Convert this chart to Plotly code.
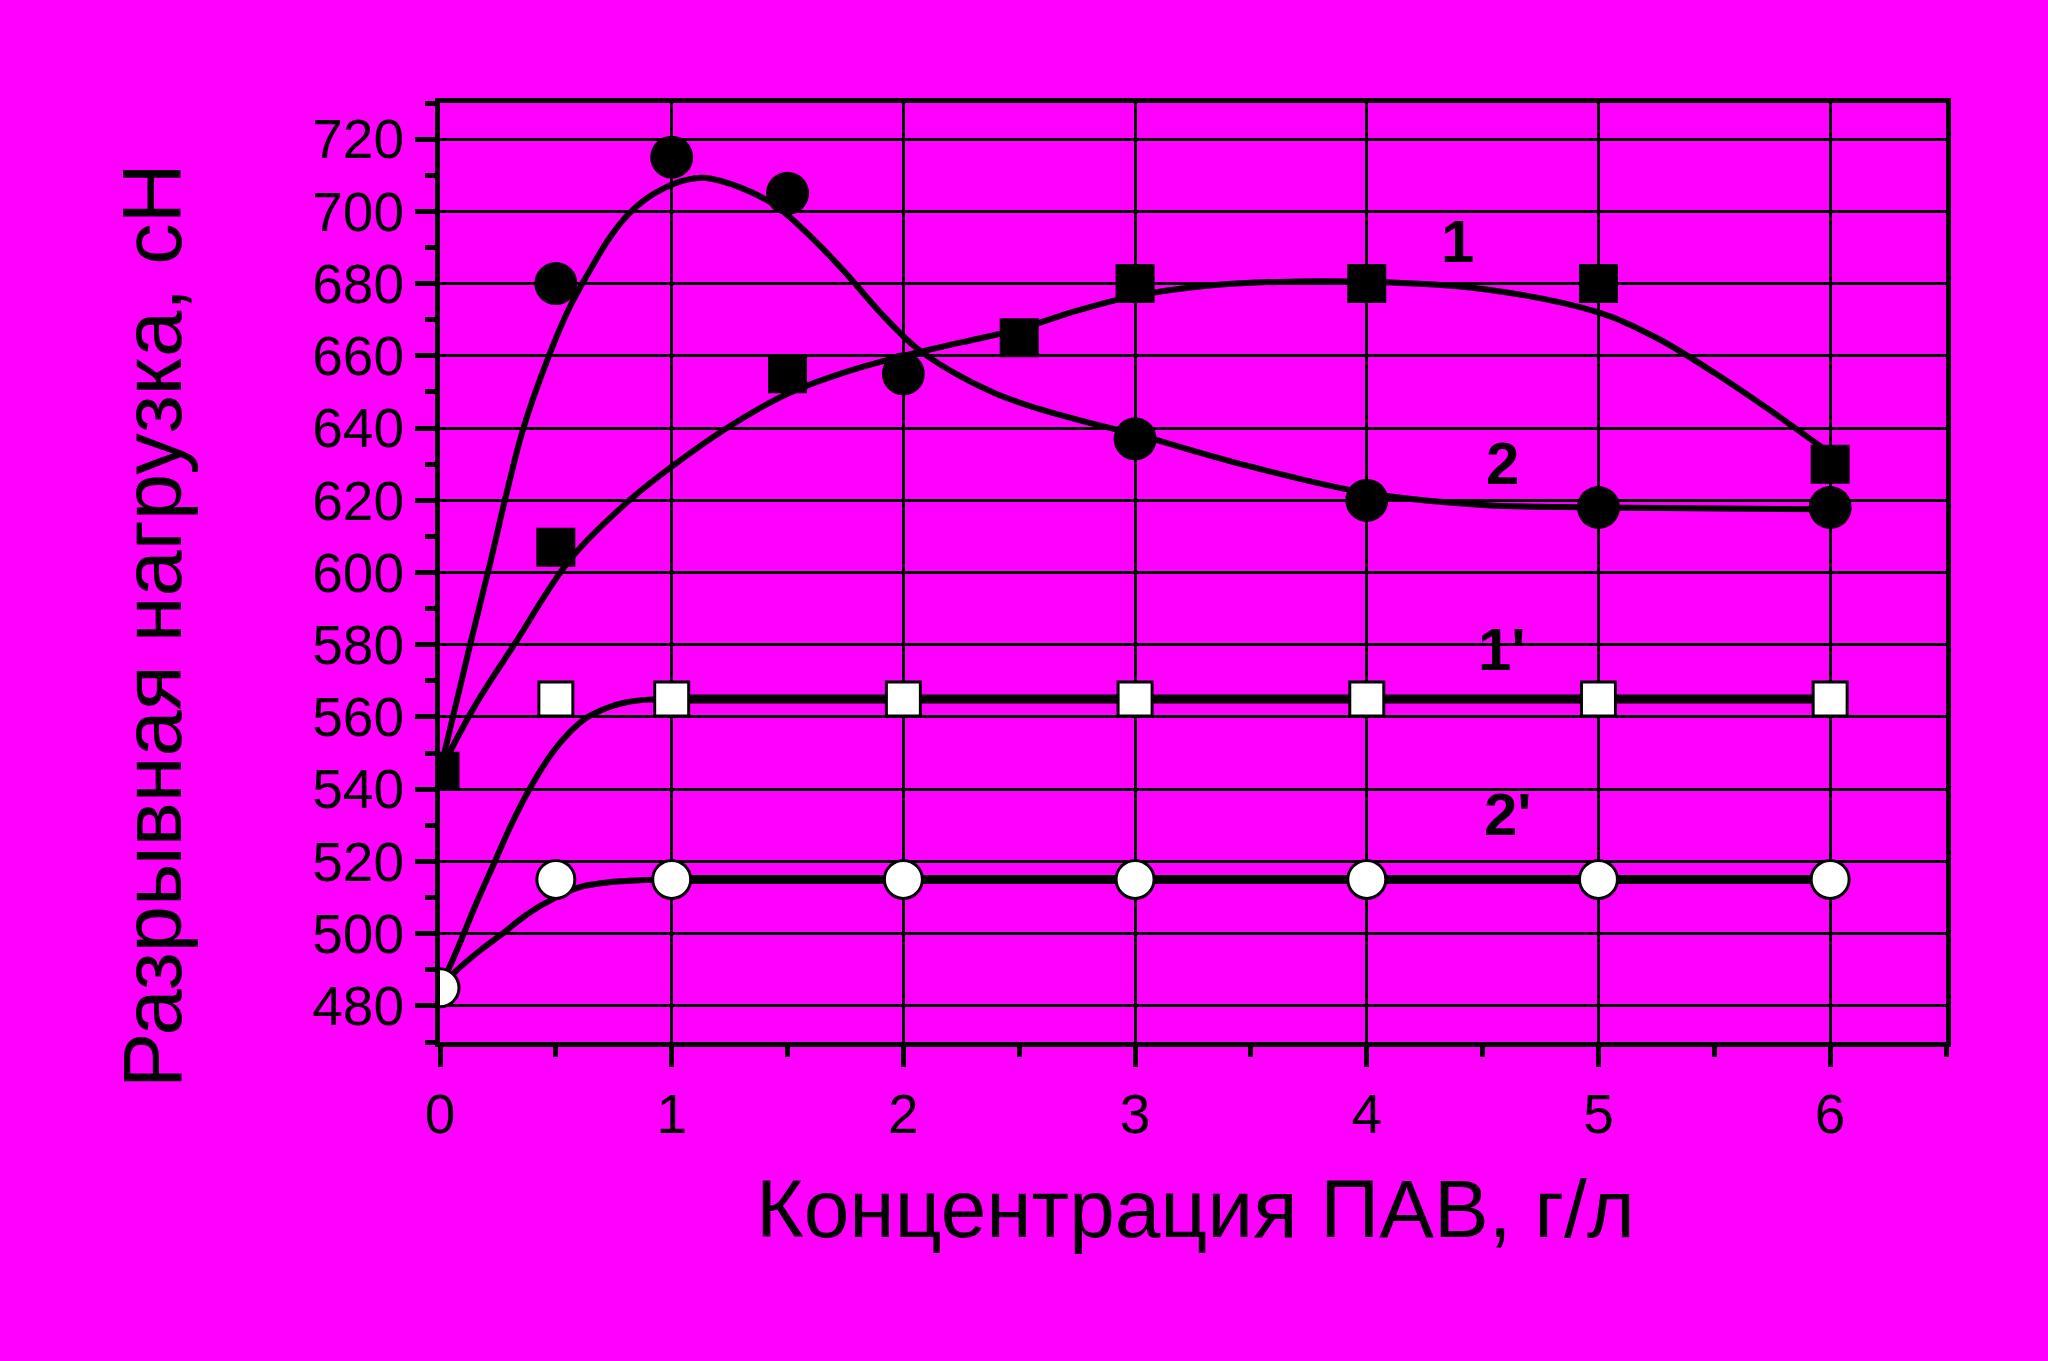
import plotly.graph_objects as go

# ---- data ----
# curve 1: filled squares
x1 = [0, 0.5, 1.5, 2.5, 3, 4, 5, 6]
y1 = [545, 607, 655, 665, 680, 680, 680, 630]
# curve 2: filled circles
x2 = [0.5, 1, 1.5, 2, 3, 4, 5, 6]
y2 = [680, 715, 705, 655, 637, 620, 618, 618]
# curve 1': open squares
x1p = [0.5, 1, 2, 3, 4, 5, 6]
y1p = [565, 565, 565, 565, 565, 565, 565]
# curve 2': open circles
x2p = [0, 0.5, 1, 2, 3, 4, 5, 6]
y2p = [485, 515, 515, 515, 515, 515, 515, 515]

# fitted (smooth) lines as drawn in the picture
fit1_x = [0, 0.15, 0.32, 0.56, 0.8, 1, 1.25, 1.5, 1.75, 2, 2.25, 2.5, 2.75, 3, 3.25, 3.5, 4, 4.5, 5, 5.25, 5.5, 5.75, 6]
fit1_y = [545, 563, 580, 603.5, 619, 629.3, 640.5, 649.5, 655.5, 660, 663.7, 667.4, 672.5, 676.6, 679, 680.2, 680.5, 678.5, 672, 665, 655.3, 644.5, 633]
fit2_x = [0, 0.13, 0.22, 0.28, 0.36, 0.47, 0.56, 0.65, 0.73, 0.81, 0.89, 0.97, 1.05, 1.14, 1.3, 1.45, 1.6, 1.75, 1.9, 2.05, 2.2, 2.4, 2.6, 2.8, 3, 3.5, 4, 4.5, 5, 6]
fit2_y = [545, 580, 603.5, 620, 640, 660, 673.5, 684, 692.5, 699, 703.5, 706.5, 708.5, 709.3, 706.5, 701.5, 693, 683, 672, 662.5, 656, 649.5, 645, 641.5, 638.3, 629.3, 622, 618.7, 618, 617.5]
fit1p_x = [0, 0.07, 0.154, 0.237, 0.31, 0.386, 0.484, 0.56, 0.633, 0.72, 0.8, 0.9, 1]
fit1p_y = [485, 495, 508, 520, 530.5, 540, 550, 555.8, 559.8, 562.5, 564, 564.8, 565]
flat1p_x = [1, 6]
flat1p_y = [565, 565]
fit2p_x = [0, 0.07, 0.17, 0.27, 0.36, 0.45, 0.6, 0.8, 1]
fit2p_y = [485, 489.7, 495.2, 500, 504.6, 508.3, 512.8, 514.6, 515]
flat2p_x = [1, 6]
flat2p_y = [515, 515]

labels = ["1", "2", "1'", "2'"]
label_x = [4.39, 4.585, 4.585, 4.61]
label_y = [691.7, 630.3, 578.8, 533.1]

x_ticks = [0, 1, 2, 3, 4, 5, 6]
y_ticks = [480, 500, 520, 540, 560, 580, 600, 620, 640, 660, 680, 700, 720]

BG = "#FF00FF"
BLK = "black"
FONT = "Liberation Sans, Arial, sans-serif"

fig = go.Figure()

def line(xs, ys, w):
    fig.add_trace(go.Scatter(x=xs, y=ys, mode="lines",
                             line=dict(color=BLK, width=w, shape="spline", smoothing=1.0),
                             hoverinfo="skip", showlegend=False))

line(fit1_x, fit1_y, 6)
line(fit2_x, fit2_y, 6)
line(fit1p_x, fit1p_y, 6)
line(flat1p_x, flat1p_y, 9)
line(fit2p_x, fit2p_y, 6)
line(flat2p_x, flat2p_y, 9)

fig.add_trace(go.Scatter(x=x1, y=y1, mode="markers",
                         marker=dict(symbol="square", size=39, color=BLK, line=dict(width=0)),
                         showlegend=False))
fig.add_trace(go.Scatter(x=x2, y=y2, mode="markers",
                         marker=dict(symbol="circle", size=43, color=BLK, line=dict(width=0)),
                         showlegend=False))
fig.add_trace(go.Scatter(x=x1p, y=y1p, mode="markers",
                         marker=dict(symbol="square", size=34, color="white", line=dict(width=3, color=BLK)),
                         showlegend=False))
fig.add_trace(go.Scatter(x=x2p, y=y2p, mode="markers",
                         marker=dict(symbol="circle", size=38, color="white", line=dict(width=3, color=BLK)),
                         showlegend=False))

for t, lx, ly in zip(labels, label_x, label_y):
    fig.add_annotation(x=lx, y=ly, xref="x", yref="y", text="<b>" + t + "</b>", showarrow=False,
                       font=dict(family="Liberation Sans Narrow, Liberation Sans, Arial", size=60, color=BLK),
                       xanchor="center", yanchor="middle")

fig.add_annotation(x=0.5016, y=-0.1768, xref="paper", yref="paper",
                   text="Концентрация ПАВ, г/л", showarrow=False,
                   font=dict(family=FONT, size=82, color=BLK), xanchor="center", yanchor="middle")
fig.add_annotation(x=-0.1912, y=0.443, xref="paper", yref="paper",
                   text="Разрывная нагрузка, сН", showarrow=False, textangle=-90,
                   font=dict(family=FONT, size=83, color=BLK), xanchor="center", yanchor="middle")

axis_common = dict(showline=True, linecolor=BLK, linewidth=5, mirror=True,
                   showgrid=True, gridcolor=BLK, gridwidth=2.5, zeroline=False,
                   ticks="outside", ticklen=20, tickwidth=5, tickcolor=BLK,
                   tickfont=dict(family=FONT, size=55, color=BLK))

fig.update_xaxes(range=[0, 6.5], tickvals=x_ticks, ticktext=[str(v) for v in x_ticks],
                 minor=dict(ticks="outside", ticklen=10, tickwidth=5, tickcolor=BLK, dtick=0.5, tick0=0, showgrid=False),
                 **axis_common)
fig.update_yaxes(range=[470, 730], tickvals=y_ticks, ticktext=[str(v) for v in y_ticks],
                 minor=dict(ticks="outside", ticklen=10, tickwidth=5, tickcolor=BLK, dtick=10, tick0=470, showgrid=False),
                 **axis_common)

fig.update_layout(width=2048, height=1361, paper_bgcolor=BG, plot_bgcolor=BG,
                  margin=dict(l=440, r=102, t=103, b=319), showlegend=False)

fig.write_html("out.html", config={"displayModeBar": False},
               post_script="document.body.style.margin='0px';document.body.style.overflow='hidden';document.body.style.background='#FF00FF';")
